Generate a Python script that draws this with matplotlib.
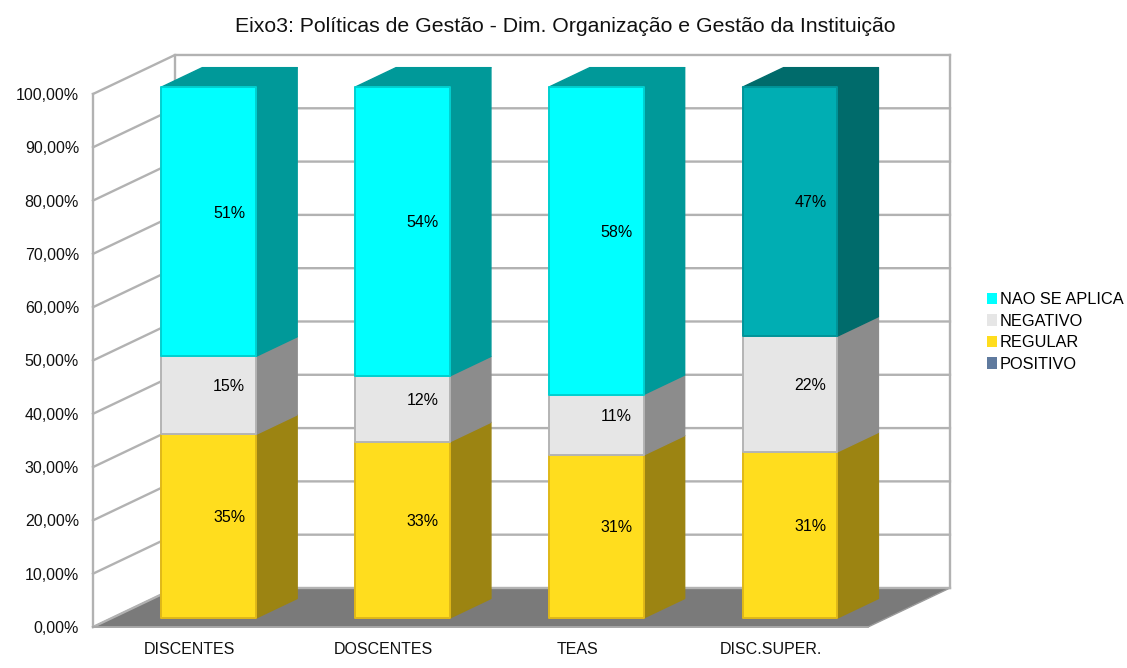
import matplotlib
matplotlib.use("Agg")
import matplotlib.pyplot as plt
from matplotlib.patches import Polygon, Patch

categories = ["DISCENTES", "DOSCENTES", "TEAS", "DISC.SUPER."]
positivo = [0, 0, 0, 0]
regular = [34.6, 33.2, 30.7, 31.3]
negativo = [14.7, 12.4, 11.4, 21.8]
nao_aplica = [50.7, 54.4, 57.9, 46.9]
y_ticks = [0, 10, 20, 30, 40, 50, 60, 70, 80, 90, 100]

series_names = ["POSITIVO", "REGULAR", "NEGATIVO", "NAO SE APLICA"]
series_values = [positivo, regular, negativo, nao_aplica]
face_colors = ["#5F7A9E", "#FFDD1E", "#E6E6E6", "#00FFFF"]
side_colors = ["#3D4F66", "#9C8412", "#8C8C8C", "#009999"]
edge_colors = ["#5F7A9E", "#E0B818", "#B4B4B4", "#00D0D0"]

GRID = "#B2B2B2"
DX = 0.423   # category units for the whole depth of the box
DY = 7.32    # percent units for the whole depth of the box
BAR_W = 0.49
BAR_SCALE = 0.996  # bars come out a bit shorter than the wall in the original


def proj(x, y, d):
    return (x + d * DX, y + d * DY)


fig = plt.figure(figsize=(11.27, 6.68), dpi=100)
plt.rcParams["font.family"] = ["Liberation Sans", "DejaVu Sans"]
ax = fig.add_axes([93 / 1127, 41 / 668, 775 / 1127, 533 / 668])
ax.set_xlim(0, 4)
ax.set_ylim(0, 100)
ax.patch.set_visible(False)
for s in ax.spines.values():
    s.set_visible(False)

# floor
ax.add_patch(Polygon([proj(0, 0, 0), proj(4, 0, 0), proj(4, 0, 1), proj(0, 0, 1)],
                     fc="#7A7A7A", ec="#9A9A9A", lw=1, zorder=1, clip_on=False))

# walls
for v in y_ticks:
    p0, p1, p2 = proj(0, v, 0), proj(0, v, 1), proj(4, v, 1)
    ax.plot([p0[0], p1[0], p2[0]], [p0[1], p1[1], p2[1]], color=GRID, lw=1.7,
            zorder=2, clip_on=False, solid_joinstyle="miter")
for x, d in [(0, 0), (0, 1), (4, 1)]:
    a, b = proj(x, 0, d), proj(x, 100, d)
    ax.plot([a[0], b[0]], [a[1], b[1]], color=GRID, lw=1.7, zorder=2, clip_on=False)
ax.plot([0, 4], [0, 0], color="#A8A8A8", lw=1.3, zorder=2, clip_on=False)

# bars, stacked from the bottom up
D0, D1 = 0.23, 0.73
for i in range(len(categories)):
    left = i + 0.5 - BAR_W / 2
    right = i + 0.5 + BAR_W / 2
    base = 0
    for s, values in enumerate(series_values):
        v = values[i]
        if v == 0:
            continue
        top = base + v * BAR_SCALE
        fc, sc, ec = face_colors[s], side_colors[s], edge_colors[s]
        if i == 3 and s == 3:
            fc, sc, ec = "#00AEB3", "#006B6B", "#009499"
        z = 5 + s * 0.1
        ax.add_patch(Polygon([proj(right, base, D0), proj(right, base, D1),
                              proj(right, top, D1), proj(right, top, D0)],
                             fc=sc, ec=sc, lw=1, joinstyle="round", zorder=z, clip_on=False))
        if s == len(series_values) - 1:
            ax.add_patch(Polygon([proj(left, top, D0), proj(right, top, D0),
                                  proj(right, top, D1), proj(left, top, D1)],
                                 fc=sc, ec=sc, lw=1, joinstyle="round", zorder=z, clip_on=False))
        ax.add_patch(Polygon([proj(left, base, D0), proj(right, base, D0),
                              proj(right, top, D0), proj(left, top, D0)],
                             fc=fc, ec=ec, lw=1.4, joinstyle="round", zorder=z + 0.05, clip_on=False))
        lx, ly = proj(i + 0.5, (base + top) / 2 - 0.2, (D0 + D1) / 2)
        ax.text(lx, ly, f"{v:.0f}%", ha="center", va="center", fontsize=11.5,
                color="black", zorder=8)
        base = top

ax.set_xticks([i + 0.5 for i in range(len(categories))], categories)
ax.set_yticks(y_ticks, [f"{v},00%" for v in y_ticks])
ax.tick_params(axis="x", length=0, pad=11, labelsize=11.5, colors="#111111")
ax.tick_params(axis="y", length=0, pad=10, labelsize=11.5, colors="#111111")

fig.text(565 / 1127, 1 - 27 / 668, "Eixo3: Políticas de Gestão - Dim. Organização e Gestão da Instituição",
         ha="center", va="center", fontsize=15.3, color="#111111")

handles = [Patch(fc=face_colors[s], ec="none", label=series_names[s]) for s in [3, 2, 1, 0]]
fig.legend(handles=handles, loc="upper left", bbox_to_anchor=(984 / 1127, 1 - 289 / 668),
           frameon=False, fontsize=11.8, handlelength=0.6, handleheight=0.7,
           handletextpad=0.15, labelspacing=0.4, borderpad=0.2, borderaxespad=0)

fig.savefig("out.png", dpi=100, facecolor="white")
